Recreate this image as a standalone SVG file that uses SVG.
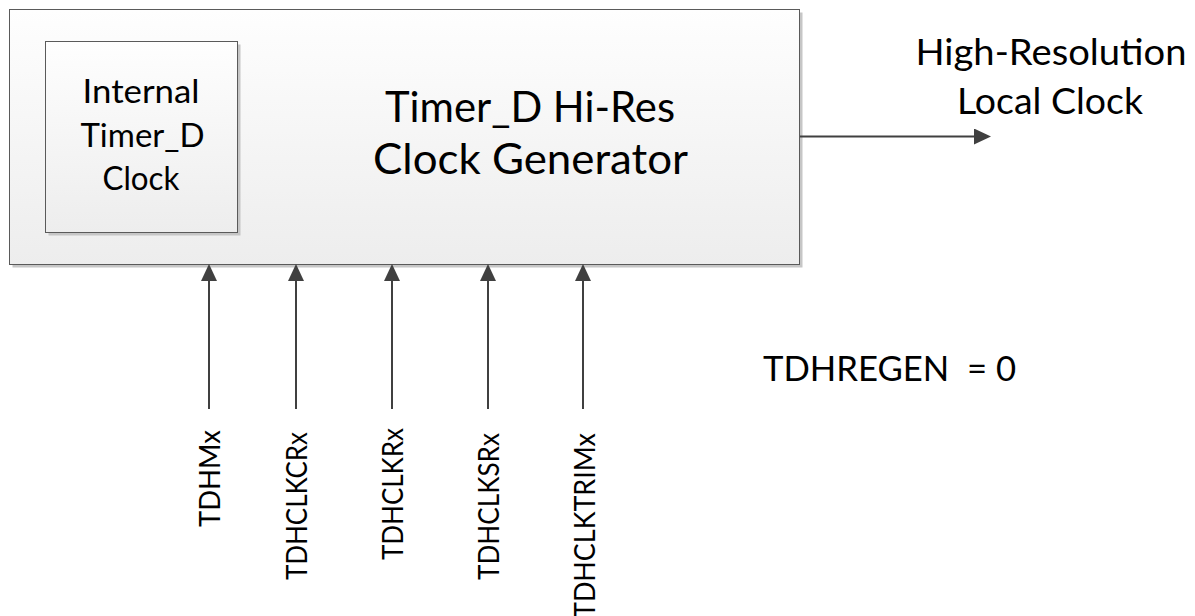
<svg xmlns="http://www.w3.org/2000/svg" width="1195" height="616" viewBox="0 0 1195 616">
  <defs>
    <linearGradient id="boxFill" x1="0" y1="0" x2="0" y2="1">
      <stop offset="0" stop-color="#fefefe"/>
      <stop offset="1" stop-color="#ededed"/>
    </linearGradient>
    <marker id="arrow" markerUnits="userSpaceOnUse" viewBox="0 0 17 16" refX="13" refY="8" markerWidth="17" markerHeight="16" orient="auto">
      <path d="M0,0 L17,8 L0,16 z" fill="#404040"/>
    </marker>
  </defs>
  <style>
    text { font-family: Lato, "Liberation Sans", sans-serif; fill: #000; }
    .shadow { fill: #c6c6c6; }
    .box { fill: url(#boxFill); stroke: #5a5a5a; stroke-width: 1; }
    .wire { stroke: #404040; stroke-width: 2; fill: none; marker-end: url(#arrow); }
    .title { font-size: 42px; text-anchor: middle; }
    .inner { font-size: 33px; text-anchor: middle; }
    .out { font-size: 36px; text-anchor: middle; }
    .sig { font-size: 29px; }
    .reg { font-size: 35px; }
  </style>
  <rect width="1195" height="616" fill="#ffffff"/>

  <g id="clock-generator">
    <rect class="shadow" x="12.5" y="12.5" width="790" height="255"/>
    <rect class="box" x="9.5" y="9.5" width="790" height="255"/>
    <text class="title" x="530" y="122" textLength="290" lengthAdjust="spacingAndGlyphs">Timer_D Hi-Res</text>
    <text class="title" x="530.5" y="174" textLength="315" lengthAdjust="spacingAndGlyphs">Clock Generator</text>
  </g>

  <g id="internal-clock">
    <rect class="shadow" x="48.5" y="44.5" width="192" height="191"/>
    <rect class="box" x="45.5" y="41.5" width="192" height="191"/>
    <text class="inner" x="141" y="103" textLength="117" lengthAdjust="spacingAndGlyphs">Internal</text>
    <text class="inner" x="142.5" y="147" textLength="124" lengthAdjust="spacingAndGlyphs">Timer_D</text>
    <text class="inner" x="141" y="190" textLength="77" lengthAdjust="spacingAndGlyphs">Clock</text>
  </g>

  <g id="connectors">
    <line class="wire" x1="800" y1="136.5" x2="987" y2="136.5"/>
    <line class="wire" x1="209" y1="409" x2="209" y2="268"/>
    <line class="wire" x1="296" y1="409" x2="296" y2="268"/>
    <line class="wire" x1="392" y1="409" x2="392" y2="268"/>
    <line class="wire" x1="488" y1="409" x2="488" y2="268"/>
    <line class="wire" x1="583" y1="409" x2="583" y2="268"/>
  </g>

  <g id="output-label">
    <text class="out" x="1051" y="65" textLength="271" lengthAdjust="spacingAndGlyphs">High-Resolution</text>
    <text class="out" x="1050" y="114" textLength="186" lengthAdjust="spacingAndGlyphs">Local Clock</text>
  </g>

  <g id="signal-labels">
    <text class="sig" transform="translate(220,527) rotate(-90)" textLength="97" lengthAdjust="spacingAndGlyphs">TDHMx</text>
    <text class="sig" transform="translate(307,580) rotate(-90)" textLength="148" lengthAdjust="spacingAndGlyphs">TDHCLKCRx</text>
    <text class="sig" transform="translate(403,560) rotate(-90)" textLength="132" lengthAdjust="spacingAndGlyphs">TDHCLKRx</text>
    <text class="sig" transform="translate(499,580) rotate(-90)" textLength="147" lengthAdjust="spacingAndGlyphs">TDHCLKSRx</text>
    <text class="sig" transform="translate(595,618) rotate(-90)" textLength="185" lengthAdjust="spacingAndGlyphs">TDHCLKTRIMx</text>
  </g>

  <g id="regen-label">
    <text class="reg" x="763" y="381" xml:space="preserve" textLength="253" lengthAdjust="spacingAndGlyphs">TDHREGEN  = 0</text>
  </g>
</svg>
